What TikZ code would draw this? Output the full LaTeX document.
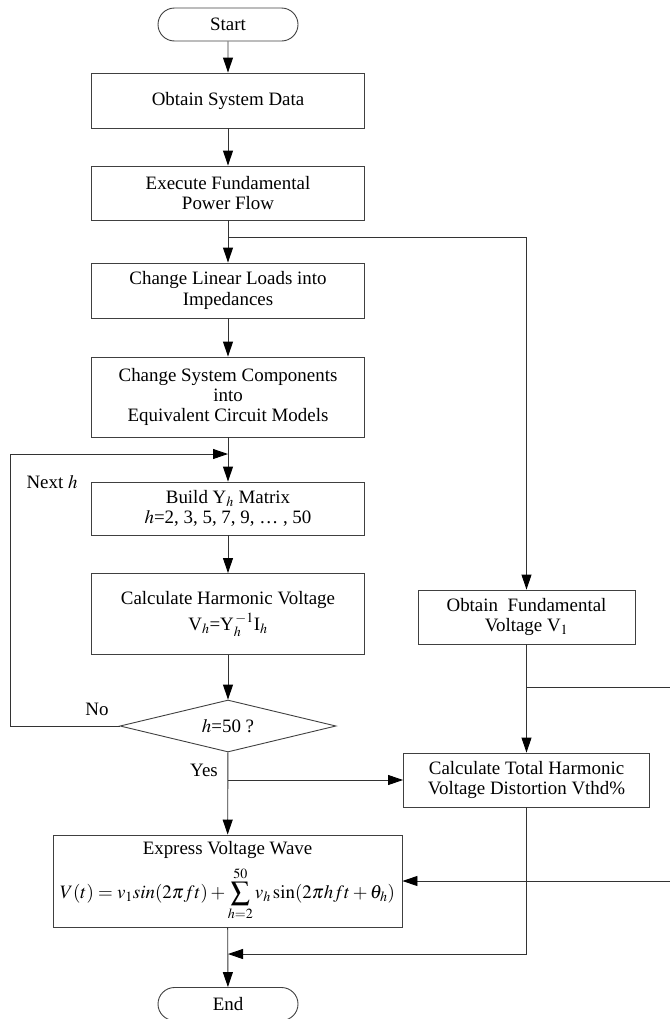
\documentclass[tikz,border=0pt]{standalone}
\usepackage{mathptmx}
\usepackage{fontspec}
\setmainfont{Liberation Serif}
\usetikzlibrary{arrows.meta,shapes.misc,shapes.geometric}
\begin{document}
\begin{tikzpicture}[x=1bp,y=-1bp,
  every node/.style={font=\fontsize{19}{20.5}\selectfont},
  line/.style={draw=black!80, line width=0.9bp},
  arr/.style={line, -{Triangle[length=15bp,width=10bp,color=black]}},
  box/.style={draw=black!75, line width=0.9bp, align=center, inner sep=0pt},
  proc/.style={box, rectangle, minimum width=273bp},
  term/.style={box, rounded rectangle, minimum width=140bp, minimum height=33bp},
  dec/.style={box, diamond, aspect=4.15, minimum width=216bp, minimum height=52bp},
  lbl/.style={inner sep=0pt}]
\useasboundingbox (0,0) rectangle (670,1019);

\node[term] (start) at (228,24.5) {Start};
\node[proc, minimum height=55bp] (obtain) at (228,100.5) {Obtain System Data};
\node[proc, minimum height=54bp] (exec) at (228,193) {Execute Fundamental\\Power Flow};
\node[proc, minimum height=55bp] (linear) at (228,290.5) {Change Linear Loads into\\Impedances};
\node[proc, minimum height=80bp] (comp) at (228,397) {Change System Components\\into\\Equivalent Circuit Models};
\node[proc, minimum height=53bp] (build) at (228,508.5) {Build Y$_{h}$ Matrix\\$h$=2, 3, 5, 7, 9, … , 50};
\node[proc, minimum height=81bp] (calc) at (228,614) {Calculate Harmonic Voltage\\[4pt]V$_{h}$=Y$_{h}^{\,\mathrm{-1}}$I$_{h}$};
\node[dec] (dia) at (228,726) {$h$=50 ?};
\node[box, rectangle, minimum width=349bp, minimum height=92bp] (express) at (227.5,881)
  {Express Voltage Wave\\[7pt]$\displaystyle V(t)=v_1 sin(2\pi ft)+\sum_{h=2}^{50}v_h\sin(2\pi hft+\theta_h)$};
\node[term] (end) at (228,1004) {End};
\node[box, rectangle, minimum width=217bp, minimum height=54bp] (fund) at (526.5,617) {Obtain\ \ Fundamental\\Voltage V$_1$};
\node[box, rectangle, minimum width=246bp, minimum height=54bp] (thd) at (526.5,780) {Calculate Total Harmonic\\Voltage Distortion Vthd\%};

\node[lbl] (no) at (97,709) {No};
\node[lbl] (yes) at (204,770) {Yes};
\node[lbl] (next) at (52,482) {Next $h$};

\coordinate (b1) at (228,237);
\coordinate (loopL) at (10,726);
\coordinate (loopIn) at (228,454);
\coordinate (b2) at (228,780);
\coordinate (b3) at (526.5,687);
\coordinate (r1) at (670,687);
\coordinate (r2) at (670,881);
\coordinate (b4) at (228,954);

\draw[arr] (start) -- (obtain);
\draw[arr] (obtain) -- (exec);
\draw[arr] (exec) -- (linear);
\draw[arr] (b1) -| (fund);
\draw[arr] (linear) -- (comp);
\draw[arr] (comp) -- (build);
\draw[arr] (build) -- (calc);
\draw[arr] (calc) -- (dia);
\draw[arr] (dia.west) -- (loopL) |- (loopIn);
\draw[arr] (dia) -- (express);
\draw[arr] (b2) -- (thd.west);
\draw[arr] (fund) -- (thd);
\draw[line] (b3) -- (r1);
\draw[arr] (r2) -- (express.east);
\draw[arr] (thd.south) |- (b4);
\draw[arr] (express) -- (end);
\end{tikzpicture}
\end{document}
